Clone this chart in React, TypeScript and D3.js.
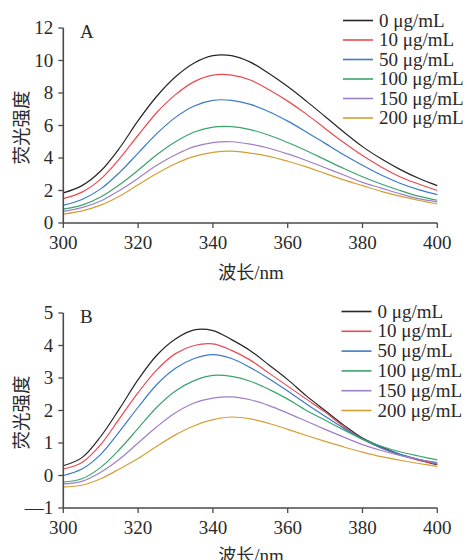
import React from "react";
import * as d3 from "d3";

const wavelengths = [300, 305, 310, 315, 320, 325, 330, 335, 340, 345, 350, 355, 360, 365, 370, 375, 380, 385, 390, 395, 400];
const seriesLabels = ["0 μg/mL", "10 μg/mL", "50 μg/mL", "100 μg/mL", "150 μg/mL", "200 μg/mL"];
const seriesColors = ["#262626", "#ea4a50", "#3b7bc8", "#3ba46c", "#9d80c6", "#d2a037"];

const panelA0 = [1.85, 2.3, 3.2, 4.6, 6.3, 7.8, 9.0, 9.85, 10.3, 10.3, 9.9, 9.2, 8.4, 7.5, 6.55, 5.6, 4.7, 3.95, 3.3, 2.75, 2.3];
const panelA10 = [1.5, 1.9, 2.7, 3.95, 5.4, 6.8, 7.9, 8.7, 9.1, 9.1, 8.8, 8.2, 7.5, 6.7, 5.82, 4.95, 4.15, 3.45, 2.85, 2.4, 2.0];
const panelA50 = [1.1, 1.45, 2.1, 3.1, 4.3, 5.5, 6.5, 7.2, 7.55, 7.55, 7.3, 6.85, 6.27, 5.6, 4.9, 4.2, 3.55, 2.95, 2.45, 2.05, 1.75];
const panelA100 = [0.85, 1.1, 1.6, 2.35, 3.25, 4.2, 5.0, 5.6, 5.9, 5.93, 5.75, 5.4, 4.95, 4.45, 3.9, 3.35, 2.85, 2.4, 2.0, 1.65, 1.4];
const panelA150 = [0.72, 0.95, 1.35, 2.0, 2.75, 3.55, 4.2, 4.7, 4.95, 5.0, 4.85, 4.6, 4.25, 3.85, 3.4, 2.95, 2.5, 2.15, 1.8, 1.5, 1.3];
const panelA200 = [0.55, 0.75, 1.1, 1.65, 2.35, 3.05, 3.65, 4.1, 4.35, 4.42, 4.3, 4.1, 3.8, 3.45, 3.05, 2.65, 2.3, 1.95, 1.65, 1.4, 1.17];

const panelB0 = [0.3, 0.55, 1.2, 2.05, 2.95, 3.7, 4.2, 4.48, 4.46, 4.18, 3.84, 3.4, 2.95, 2.45, 2.0, 1.55, 1.15, 0.88, 0.65, 0.48, 0.33];
const panelB10 = [0.2, 0.4, 0.95, 1.75, 2.55, 3.25, 3.75, 4.0, 4.05, 3.85, 3.55, 3.15, 2.75, 2.35, 1.95, 1.5, 1.12, 0.85, 0.63, 0.47, 0.35];
const panelB50 = [0.0, 0.2, 0.65, 1.35, 2.1, 2.8, 3.3, 3.6, 3.72, 3.6, 3.32, 2.98, 2.6, 2.2, 1.82, 1.45, 1.12, 0.85, 0.65, 0.5, 0.38];
const panelB100 = [-0.2, -0.1, 0.25, 0.8, 1.45, 2.1, 2.6, 2.92, 3.08, 3.05, 2.9, 2.65, 2.35, 2.0, 1.7, 1.4, 1.12, 0.9, 0.73, 0.6, 0.48];
const panelB150 = [-0.26, -0.18, 0.1, 0.5, 1.0, 1.5, 1.93, 2.23, 2.38, 2.42, 2.33, 2.15, 1.92, 1.67, 1.42, 1.18, 0.95, 0.77, 0.62, 0.5, 0.4];
const panelB200 = [-0.35, -0.3, -0.1, 0.2, 0.52, 0.9, 1.25, 1.53, 1.72, 1.8, 1.74, 1.6, 1.42, 1.23, 1.05, 0.88, 0.72, 0.58, 0.47, 0.37, 0.28];

const xTicks = [300, 320, 340, 360, 380, 400];
const yTicksA = [0, 2, 4, 6, 8, 10, 12];
const yTicksB = [-1, 0, 1, 2, 3, 4, 5];

const FONT = "'Liberation Serif', 'Times New Roman', serif";
const CJK = "'Noto Sans CJK SC', sans-serif";
const AXIS = "#4a4a4a";
const TEXT = "#2a2a2a";

type PanelProps = {
  top: number;
  bottom: number;
  domain: [number, number];
  ticks: number[];
  series: number[][];
  letter: string;
  legendX: number;
  legendY: number;
  legendStep: number;
  titleY: number;
  tickFmt: (v: number) => string;
};

function Panel(p: PanelProps) {
  const x = d3.scaleLinear().domain([300, 400]).range([63.3, 437.3]);
  const y = d3.scaleLinear().domain(p.domain).range([p.bottom, p.top]);
  const line = d3
    .line<number>()
    .x((_, i) => x(wavelengths[i]))
    .y((d) => y(d))
    .curve(d3.curveCatmullRom.alpha(0.5));
  const x0 = x(300);
  return (
    <g>
      {p.series.map((s, i) => (
        <path key={i} d={line(s) || ""} fill="none" stroke={seriesColors[i]} strokeWidth={1.2} />
      ))}
      <line x1={x0} x2={x0} y1={y(p.domain[1])} y2={p.bottom} stroke={AXIS} strokeWidth={1.6} />
      <line x1={x0} x2={x(400)} y1={p.bottom} y2={p.bottom} stroke={AXIS} strokeWidth={1.6} />
      {p.ticks.map((t) => (
        <g key={"y" + t}>
          <line x1={x0 - 5} x2={x0} y1={y(t)} y2={y(t)} stroke={AXIS} strokeWidth={1.3} />
          <text x={x0 - 10} y={y(t)} dy="0.34em" textAnchor="end" fontFamily={FONT} fontSize={19} fill={TEXT}>
            {p.tickFmt(t)}
          </text>
        </g>
      ))}
      {xTicks.map((t) => (
        <g key={"x" + t}>
          <line x1={x(t)} x2={x(t)} y1={p.bottom} y2={p.bottom + 5} stroke={AXIS} strokeWidth={1.3} />
          <text x={x(t)} y={p.bottom + 26} textAnchor="middle" fontFamily={FONT} fontSize={19} fill={TEXT}>
            {t}
          </text>
        </g>
      ))}
      <text x={80} y={p.top + 10} fontFamily={FONT} fontSize={19} fill={TEXT}>
        {p.letter}
      </text>
      <text x={251} y={p.titleY} textAnchor="middle" fontFamily={FONT} fontSize={19} fill={TEXT}>
        <tspan fontFamily={CJK} fontSize={18}>波长</tspan>/nm
      </text>
      <text
        transform={`translate(22,${(p.top + p.bottom) / 2 + 2}) rotate(-90)`}
        textAnchor="middle"
        dy="0.35em"
        fontFamily={CJK}
        fontSize={18.5}
        fill={TEXT}
      >
        荧光强度
      </text>
      {seriesLabels.map((lab, i) => {
        const ly = p.legendY + i * p.legendStep;
        return (
          <g key={lab}>
            <line x1={p.legendX} x2={p.legendX + 30} y1={ly} y2={ly} stroke={seriesColors[i]} strokeWidth={1.6} />
            <text x={p.legendX + 36} y={ly} dy="0.32em" fontFamily={FONT} fontSize={19} fill={TEXT}>
              {lab}
            </text>
          </g>
        );
      })}
    </g>
  );
}

export default function App() {
  return (
    <svg
      width={467}
      height={560}
      viewBox="0 0 467 560"
      style={{ position: "absolute", left: 0, top: 0, background: "#fff" }}
    >
      <Panel
        top={28}
        bottom={223}
        domain={[0, 12]}
        ticks={yTicksA}
        series={[panelA0, panelA10, panelA50, panelA100, panelA150, panelA200]}
        letter="A"
        legendX={343}
        legendY={20.5}
        legendStep={19.5}
        titleY={279}
        tickFmt={(v) => String(v)}
      />
      <Panel
        top={313}
        bottom={508}
        domain={[-1, 5]}
        ticks={yTicksB}
        series={[panelB0, panelB10, panelB50, panelB100, panelB150, panelB200]}
        letter="B"
        legendX={341.5}
        legendY={311.5}
        legendStep={19.8}
        titleY={562}
        tickFmt={(v) => (v < 0 ? "—" + Math.abs(v) : String(v))}
      />
    </svg>
  );
}
